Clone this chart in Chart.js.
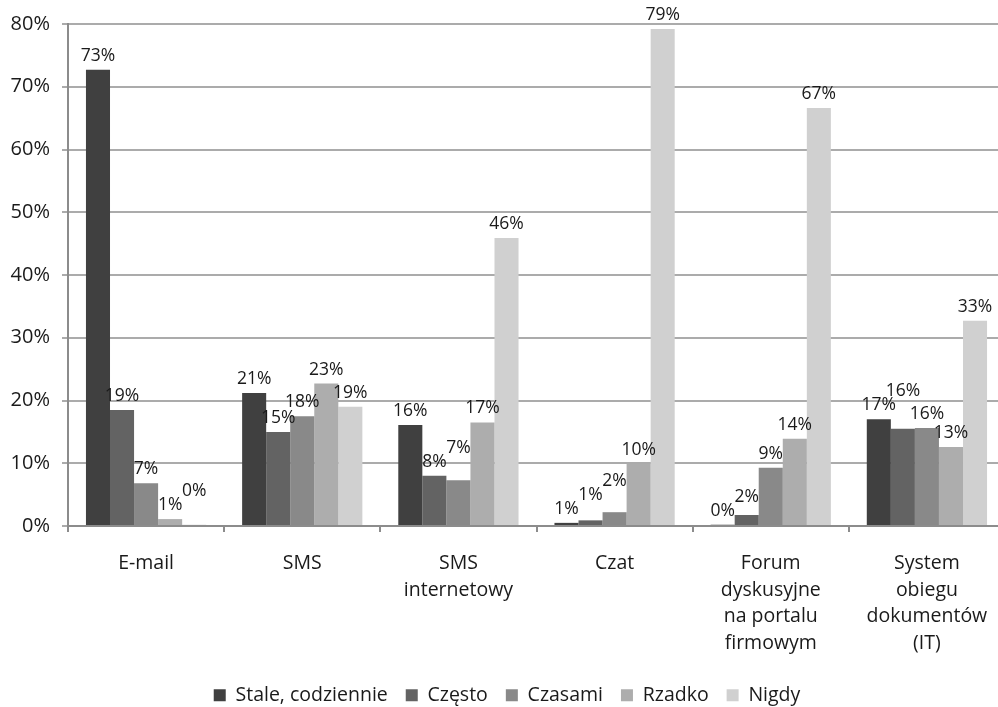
<!DOCTYPE html>
<html>
<head>
<meta charset="utf-8">
<script src="https://cdn.jsdelivr.net/npm/chart.js@4/dist/chart.umd.min.js"></script>
<style>
  html, body { margin: 0; padding: 0; background: #fff; overflow: hidden; }
  #wrap { position: relative; width: 1010px; height: 715px; }
</style>
</head>
<body>
<div id="wrap"><canvas id="commChart"></canvas></div>
<script>
// Categories (multi-line labels) and series
var categories = [
    ['E-mail'],
    ['SMS'],
    ['SMS', 'internetowy'],
    ['Czat'],
    ['Forum', 'dyskusyjne', 'na portalu', 'firmowym'],
    ['System', 'obiegu', 'dokumentów', '(IT)']
];
var seriesNames = ['Stale, codziennie', 'Często', 'Czasami', 'Rzadko', 'Nigdy'];
var seriesColors = ['#404040', '#636363', '#898989', '#adadad', '#d0d0d0'];

var staleCodziennie = [72.7, 21.2, 16.1, 0.5, 0.2, 17.0];
var czesto          = [18.5, 15.0, 8.0, 0.9, 1.75, 15.5];
var czasami         = [6.8, 17.5, 7.3, 2.2, 9.3, 15.6];
var rzadko          = [1.1, 22.7, 16.5, 9.9, 13.9, 12.6];
var nigdy           = [0.2, 19.0, 45.9, 79.2, 66.6, 32.7];

var yTicks = [0, 10, 20, 30, 40, 50, 60, 70, 80];

var FONT = '"Open Sans", "Noto Sans", sans-serif';
var TEXT = '#1a1a1a';

// value labels above each bar; a label that would collide with the
// previous one in the same group is pushed up above it
var barLabels = {
    id: 'barLabels',
    afterDatasetsDraw: function (chart) {
        var ctx = chart.ctx;
        ctx.save();
        ctx.font = '17.5px ' + FONT;
        ctx.fillStyle = TEXT;
        ctx.textAlign = 'center';
        ctx.textBaseline = 'alphabetic';
        var nCat = chart.data.labels.length;
        for (var c = 0; c < nCat; c++) {
            var prev = null;
            chart.data.datasets.forEach(function (ds, i) {
                var el = chart.getDatasetMeta(i).data[c];
                var txt = Math.round(ds.data[c]) + '%';
                var w = ctx.measureText(txt).width;
                var base = el.y - 9;
                var box = { l: el.x - w / 2, r: el.x + w / 2, t: base - 13, b: base };
                if (prev && box.l < prev.r && box.b > prev.t && box.t < prev.b) {
                    base = prev.t - 1;
                    box.b = base; box.t = base - 13;
                }
                ctx.fillText(txt, el.x, base);
                prev = box;
            });
        }
        ctx.restore();
    }
};

var datasets = [staleCodziennie, czesto, czasami, rzadko, nigdy].map(function (vals, i) {
    return {
        label: seriesNames[i],
        data: vals,
        backgroundColor: seriesColors[i],
        borderWidth: 0,
        categoryPercentage: 0.77,
        barPercentage: 1.0
    };
});

new Chart(document.getElementById('commChart'), {
    type: 'bar',
    data: { labels: categories, datasets: datasets },
    plugins: [barLabels],
    options: {
        responsive: true,
        maintainAspectRatio: false,
        animation: false,
        layout: { padding: { left: 9, right: 5, top: 23, bottom: 0 } },
        plugins: {
            tooltip: { enabled: false },
            legend: {
                position: 'bottom',
                labels: {
                    font: { family: FONT, size: 19.5 },
                    color: TEXT,
                    boxWidth: 12,
                    boxHeight: 12,
                    padding: 18
                }
            }
        },
        scales: {
            x: {
                grid: { drawOnChartArea: false, color: '#8c8c8c', lineWidth: 2, tickLength: 6, offset: true },
                border: { color: '#8c8c8c', width: 2 },
                ticks: {
                    font: { family: FONT, size: 19.5, lineHeight: 1.37 },
                    color: TEXT,
                    padding: 18,
                    autoSkip: false,
                    maxRotation: 0
                },
                afterFit: function (scale) { scale.height = 141.5; }
            },
            y: {
                min: 0,
                max: yTicks[yTicks.length - 1],
                afterBuildTicks: function (scale) {
                    scale.ticks = yTicks.map(function (v) { return { value: v }; });
                },
                grid: { color: '#ababab', lineWidth: 2, tickLength: 6 },
                border: { color: '#8c8c8c', width: 2 },
                ticks: {
                    font: { family: FONT, size: 20 },
                    color: TEXT,
                    padding: 12,
                    callback: function (v) { return v + '%'; }
                },
                afterFit: function (scale) { scale.width = 59; }
            }
        }
    }
});
</script>
</body>
</html>
